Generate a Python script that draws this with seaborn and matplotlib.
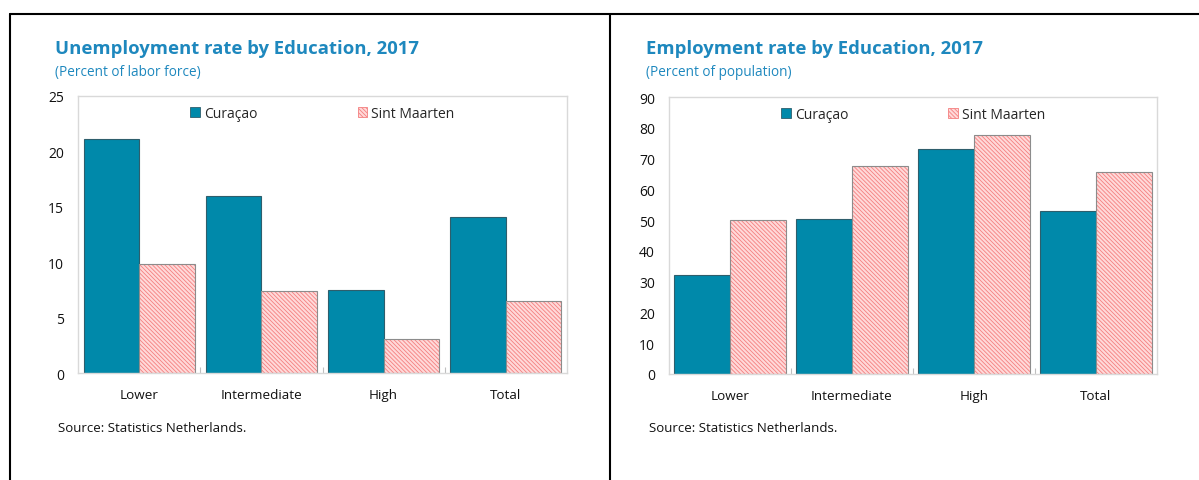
import numpy as np
import pandas as pd
import matplotlib
matplotlib.use("Agg")
import matplotlib.pyplot as plt
import seaborn as sns
from matplotlib.patches import Patch, Rectangle
from matplotlib.lines import Line2D

# ---------------- data ----------------
categories = ["Lower", "Intermediate", "High", "Total"]
series = ["Curaçao", "Sint Maarten"]
unemp_curacao = [21.1, 16.0, 7.5, 14.1]
unemp_sint_maarten = [9.8, 7.4, 3.1, 6.5]
emp_curacao = [32.1, 50.4, 73.0, 53.1]
emp_sint_maarten = [50.1, 67.7, 77.8, 65.5]
unemp_ticks = [0, 5, 10, 15, 20, 25]
emp_ticks = [0, 10, 20, 30, 40, 50, 60, 70, 80, 90]

# ---------------- style ----------------
TEAL = "#0089AA"
PINK = "#FFD9D9"
HATCH = "#F47F7F"
HATCH_PAT = "\\\\\\\\\\\\\\\\"
TITLE_C = "#1E88BE"

sns.set_theme(style="white")
plt.rcParams["font.family"] = ["Open Sans", "DejaVu Sans"]
plt.rcParams["hatch.linewidth"] = 0.6

fig = plt.figure(figsize=(11.99, 4.81), dpi=100)
W, H = 1199, 481


def panel(rect, cur, sxm, ticks, title, subtitle, title_x):
    ax = fig.add_axes(rect)
    df = pd.DataFrame({
        "Education": categories * 2,
        "Country": [series[0]] * len(categories) + [series[1]] * len(categories),
        "Value": list(cur) + list(sxm),
    })
    sns.barplot(data=df, x="Education", y="Value", hue="Country",
                order=categories, hue_order=series,
                palette=[TEAL, PINK], saturation=1, width=0.91, gap=0,
                errorbar=None, legend=False, ax=ax)
    for p in ax.containers[0]:
        p.set_edgecolor("#2E5E6C")
        p.set_linewidth(0.8)
    for p in ax.containers[1]:
        p.set_hatch(HATCH_PAT)
        p.set_edgecolor(HATCH)
        p.set_linewidth(0)
        ax.add_patch(Rectangle(p.get_xy(), p.get_width(), p.get_height(),
                               fill=False, edgecolor="#8C8C8C", lw=0.8, zorder=p.get_zorder() + 0.1))
    ax.set_xlim(-0.5, len(categories) - 0.5)
    ax.set_ylim(ticks[0], ticks[-1])
    ax.set_yticks(ticks)
    ax.set_xticks(range(len(categories)))
    ax.set_xticklabels(categories)
    ax.set_xticks([i + 0.5 for i in range(len(categories) - 1)], minor=True)
    ax.tick_params(axis="x", which="major", length=0, pad=11, labelsize=9.7, colors="#111111")
    ax.tick_params(axis="x", which="minor", bottom=True, direction="in", length=4, width=0.8, color="#BFBFBF")
    ax.tick_params(axis="y", length=0, pad=10, labelsize=10, colors="#111111")
    ax.set_xlabel("")
    ax.set_ylabel("")
    for s in ax.spines.values():
        s.set_color("#D9D9D9")
        s.set_linewidth(1.0)
    handles = [Patch(facecolor=TEAL, edgecolor="#2E5E6C", lw=0.6),
               Patch(facecolor=PINK, edgecolor=HATCH, hatch=HATCH_PAT, lw=0.6)]
    ax.legend(handles, series, loc="upper center", bbox_to_anchor=(0.5, 1.0), ncol=2,
              frameon=False, fontsize=10, handlelength=0.7, handleheight=0.7,
              handletextpad=0.3, columnspacing=7.2, borderaxespad=0.3)
    fig.text(title_x / W, 1 - 49 / H, title, fontsize=13.3, fontweight="bold",
             color=TITLE_C, va="center", ha="left")
    fig.text(title_x / W, 1 - 73 / H, subtitle, fontsize=9.8, color=TITLE_C,
             va="center", ha="left")
    fig.text((title_x + 3) / W, 1 - 428 / H, "Source: Statistics Netherlands.",
             fontsize=9.5, color="#111111", va="center", ha="left")
    return ax


panel([78 / W, 1 - 374 / H, 489 / W, 277 / H], unemp_curacao, unemp_sint_maarten,
      unemp_ticks, "Unemployment rate by Education, 2017", "(Percent of labor force)", 55)
panel([669 / W, 1 - 375 / H, 488 / W, 277 / H], emp_curacao, emp_sint_maarten,
      emp_ticks, "Employment rate by Education, 2017", "(Percent of population)", 646)

# panel borders
top_y = 1 - 15 / H
fig.add_artist(Line2D([10 / W, 1], [top_y, top_y], color="black", lw=1.5))
fig.add_artist(Line2D([10 / W, 10 / W], [0, top_y], color="black", lw=1.5))
fig.add_artist(Line2D([610 / W, 610 / W], [0, top_y], color="black", lw=1.5))

fig.savefig("out.png", dpi=100)
